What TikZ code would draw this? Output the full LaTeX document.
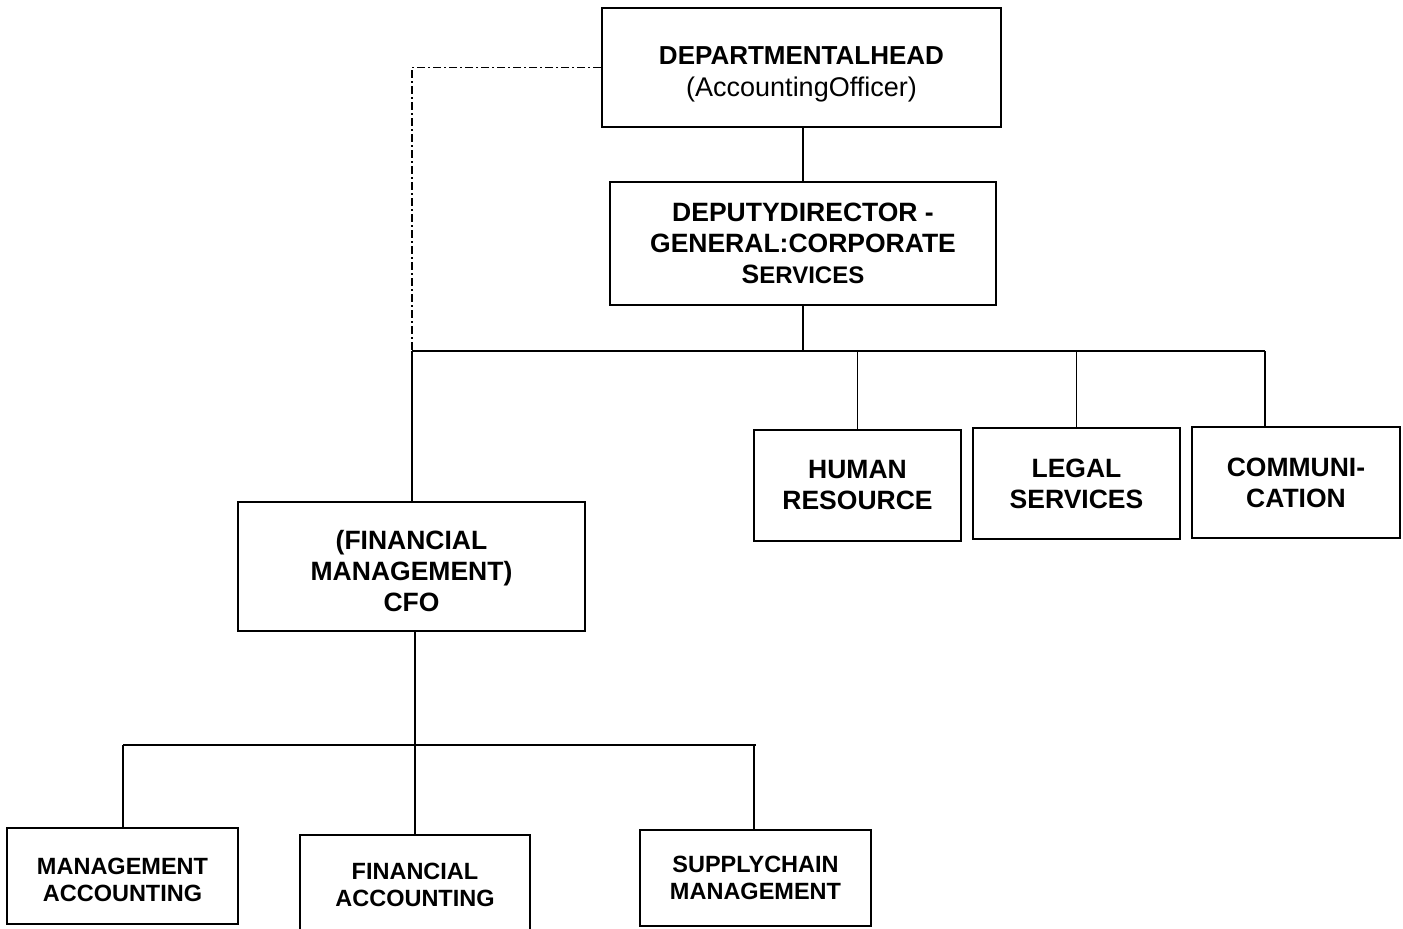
\documentclass[tikz,border=0pt]{standalone}
\usepackage{fontspec}
\setmainfont{Liberation Sans}
\newcommand\toppad[1]{\rule{0pt}{#1}}
\begin{document}
\begin{tikzpicture}[x=1pt,y=-1pt,
  box/.style={draw, line width=1.8pt, inner sep=0pt, align=center, font=\fontsize{26.5}{31}\selectfont\bfseries},
  smallbox/.style={box, font=\fontsize{23.5}{27}\selectfont\bfseries},
  link/.style={line width=1.8pt},
  dashdotline/.style={line width=1.5pt, dash pattern=on 8pt off 3pt on 2pt off 3pt}]
\useasboundingbox (0,0) rectangle (1403,929);
\clip (0,0) rectangle (1403,929);
\fill[white] (0,0) rectangle (1403,929);
\node[box, minimum width=399pt, minimum height=119pt, font=\fontsize{26}{32}\selectfont\bfseries] (head) at (801.5,67.5)
  {\toppad{32pt}DEPARTMENTALHEAD\\ {\mdseries\fontsize{27}{32}\selectfont (AccountingOfficer)}};
\node[box, minimum width=386pt, minimum height=123pt] (deputy) at (803,243.5)
  {DEPUTYDIRECTOR -\\ GENERAL:CORPORATE\\ S{\fontsize{24}{31}\selectfont ERVICES}};
\node[box, minimum width=207pt, minimum height=111pt] (hr) at (857.5,485.5) {HUMAN\\ RESOURCE};
\node[box, minimum width=207pt, minimum height=111pt] (legal) at (1076.5,483.5) {LEGAL\\ SERVICES};
\node[box, minimum width=208pt, minimum height=111pt] (comm) at (1296,482.5) {COMMUNI-\\ CATION};
\node[box, minimum width=347pt, minimum height=129pt] (cfo) at (411.5,566.5) {\toppad{28pt}(FINANCIAL\\ MANAGEMENT)\\ CFO};
\node[smallbox, minimum width=231pt, minimum height=96pt] (mgmt) at (122.5,876) {\toppad{25pt}MANAGEMENT\\ ACCOUNTING};
\node[smallbox, minimum width=230pt, minimum height=100pt] (finacc) at (415,885) {FINANCIAL\\ ACCOUNTING};
\node[smallbox, minimum width=231pt, minimum height=96pt] (supply) at (755.5,878) {SUPPLYCHAIN\\ MANAGEMENT};
\coordinate (busL) at (412,351);
\coordinate (busM) at (803,351);
\coordinate (busR) at (1265,351);
\coordinate (bus2) at (415,745);
\coordinate (bus2L) at (123,745);
\coordinate (bus2R) at (756,745);
\coordinate (supTop) at (754,745);
\draw[link] (deputy.north) -- (deputy.north |- head.south);
\draw[link] (deputy.south) -- (busM);
\draw[link] (busL) -- (busR);
\draw[link] (hr.north) -- (hr.north |- busL);
\draw[link] (legal.north) -- (legal.north |- busL);
\draw[link] (busR) -- (busR |- comm.north);
\draw[link] (busL) -- (busL |- cfo.north);
\draw[dashdotline] (head.west) -| (busL);
\draw[link] (cfo.south -| bus2) -- (bus2);
\draw[link] (bus2L) -- (bus2R);
\draw[link] (bus2L) -- (bus2L |- mgmt.north);
\draw[link] (bus2) -- (finacc.north);
\draw[link] (supTop) -- (supTop |- supply.north);
\end{tikzpicture}
\end{document}
